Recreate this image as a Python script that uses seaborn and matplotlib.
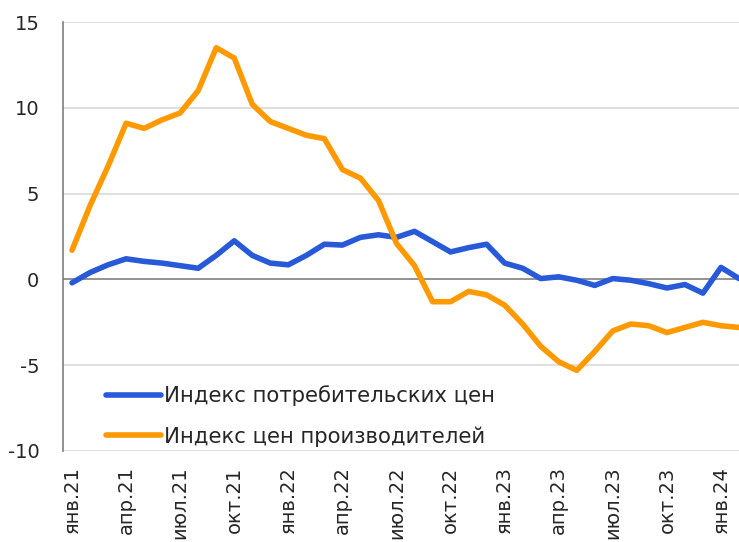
import matplotlib.pyplot as plt
import pandas as pd
import seaborn as sns

# months Jan 2021 .. Feb 2024
months = ['янв.21', 'фев.21', 'мар.21', 'апр.21', 'май.21', 'июн.21', 'июл.21', 'авг.21', 'сен.21', 'окт.21', 'ноя.21', 'дек.21',
          'янв.22', 'фев.22', 'мар.22', 'апр.22', 'май.22', 'июн.22', 'июл.22', 'авг.22', 'сен.22', 'окт.22', 'ноя.22', 'дек.22',
          'янв.23', 'фев.23', 'мар.23', 'апр.23', 'май.23', 'июн.23', 'июл.23', 'авг.23', 'сен.23', 'окт.23', 'ноя.23', 'дек.23',
          'янв.24', 'фев.24']

cpi = [-0.2, 0.4, 0.85, 1.2, 1.05, 0.95, 0.8, 0.65, 1.4, 2.25, 1.4, 0.95,
       0.85, 1.4, 2.05, 2.0, 2.45, 2.6, 2.45, 2.8, 2.2, 1.6, 1.85, 2.05,
       0.95, 0.65, 0.05, 0.15, -0.05, -0.35, 0.05, -0.05, -0.25, -0.5, -0.3, -0.8,
       0.7, 0.05]

ppi = [1.7, 4.3, 6.6, 9.1, 8.8, 9.3, 9.7, 11.0, 13.5, 12.9, 10.2, 9.2,
       8.8, 8.4, 8.2, 6.4, 5.9, 4.6, 2.1, 0.8, -1.3, -1.3, -0.7, -0.9,
       -1.5, -2.6, -3.9, -4.8, -5.3, -4.2, -3.0, -2.6, -2.7, -3.1, -2.8, -2.5,
       -2.7, -2.8]

series_names = ['Индекс потребительских цен', 'Индекс цен производителей']
colors = ['#2759D8', '#FF9900']

df = pd.DataFrame({
    'idx': list(range(len(months))) * 2,
    'value': cpi + ppi,
    'series': [series_names[0]] * len(cpi) + [series_names[1]] * len(ppi),
})

sns.set_style('white')
plt.rcParams['font.family'] = ['DejaVu Sans']

fig = plt.figure(figsize=(7.39, 5.42), dpi=100)
ax = fig.add_axes([63 / 739, 1 - 451 / 542, 1 - 63 / 739, (451 - 22) / 542])

for y in [-10, -5, 5, 10, 15]:
    ax.axhline(y, color='#d9d9d9', lw=1.2, zorder=0)
ax.axhline(0, color='#7f7f7f', lw=1.2, zorder=1)

sns.lineplot(data=df, x='idx', y='value', hue='series', palette=colors,
             lw=4, ax=ax, solid_joinstyle='round', solid_capstyle='round', zorder=3)

ax.set_xlim(-0.5, len(months) - 1)
ax.set_ylim(-10, 15)
ax.set_yticks([-10, -5, 0, 5, 10, 15])
ax.set_yticklabels(['-10', '-5', '0', '5', '10', '15'])
ax.set_xticks(range(0, len(months), 3))
ax.set_xticklabels(months[::3], rotation=90)
ax.tick_params(axis='y', length=0, pad=17, labelsize=14)
ax.tick_params(axis='x', length=0, pad=11, labelsize=14)
ax.set_xlabel('')
ax.set_ylabel('')

for s in ['top', 'right', 'bottom']:
    ax.spines[s].set_visible(False)
ax.spines['left'].set_color('#7f7f7f')
ax.spines['left'].set_linewidth(1.2)

ax.legend(loc='lower left', bbox_to_anchor=(0.035, -0.035), frameon=False,
          fontsize=15.3, handlelength=2.6, handletextpad=0.12, labelspacing=0.95)

plt.savefig('out.png', dpi=100)
